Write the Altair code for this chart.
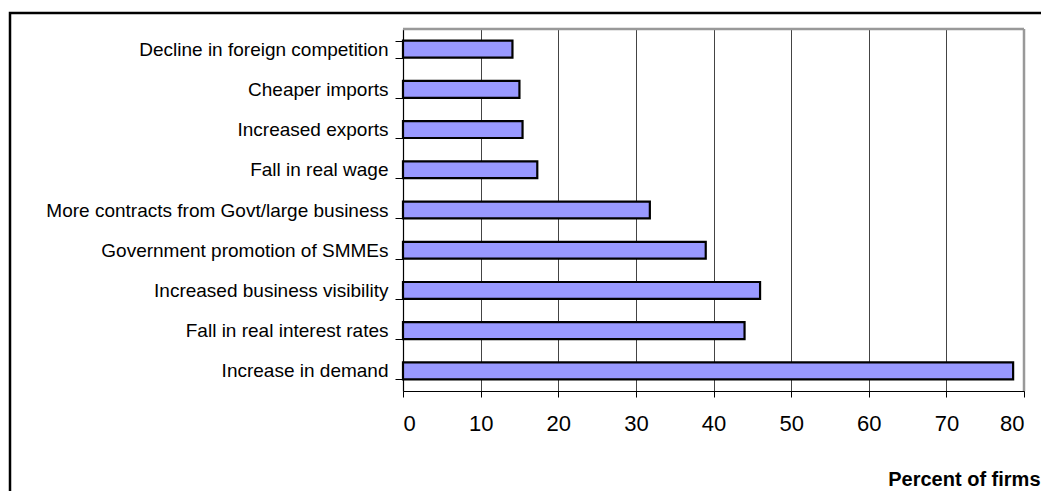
import altair as alt
import pandas as pd

categories = [
    "Decline in foreign competition",
    "Cheaper imports",
    "Increased exports",
    "Fall in real wage",
    "More contracts from Govt/large business",
    "Government promotion of SMMEs",
    "Increased business visibility",
    "Fall in real interest rates",
    "Increase in demand",
]
values = [14.1, 15.0, 15.4, 17.3, 31.8, 39.0, 46.0, 44.0, 78.6]
x_ticks = [0, 10, 20, 30, 40, 50, 60, 70, 80]

df = pd.DataFrame({"factor": categories, "pct": values})

W, H = 621, 362

bars = alt.Chart(df).mark_bar(
    color="#9999FF", stroke="#000000", strokeWidth=2.2
).encode(
    x=alt.X(
        "pct:Q",
        scale=alt.Scale(domain=[0, 80], nice=False),
        axis=alt.Axis(
            values=x_ticks,
            title="Percent of firms",
            titleFontWeight="bold",
            titleFontSize=20,
            titleFont="Liberation Sans",
            titleColor="#000000",
            titleAnchor="end",
            titleAlign="right",
            titleX=W + 16,
            titleY=88,
            titleBaseline="middle",
            labelFont="Liberation Sans",
            labelFontSize=22,
            labelColor="#000000",
            labelPadding=16,
            tickSize=6,
            tickColor="#000000",
            domainColor="#000000",
            domainWidth=1.2,
            grid=True,
            gridColor="#444444",
            gridWidth=1,
        ),
    ),
    y=alt.Y(
        "factor:N",
        sort=categories,
        scale=alt.Scale(paddingInner=0.58, paddingOuter=0.29),
        axis=alt.Axis(
            title=None,
            labelFont="Liberation Sans",
            labelFontSize=19,
            labelColor="#000000",
            labelPadding=7,
            labelLimit=400,
            tickSize=8,
            tickBand="extent",
            tickColor="#000000",
            domainColor="#000000",
            domainWidth=1.2,
            grid=False,
        ),
    ),
)

one = pd.DataFrame({"a": [0]})

frame_top = alt.Chart(one).mark_rule(color="#999999", strokeWidth=2.5).encode(
    x=alt.value(0), x2=alt.value(W), y=alt.value(0)
)
frame_right = alt.Chart(one).mark_rule(color="#999999", strokeWidth=2.5).encode(
    x=alt.value(W), y=alt.value(0), y2=alt.value(H)
)

border = alt.Chart(one).mark_rect(
    fill="transparent", stroke="#000000", strokeWidth=2.5
).encode(
    x=alt.value(-393), x2=alt.value(700),
    y=alt.value(-16), y2=alt.value(520),
)

chart = alt.layer(bars, frame_top, frame_right, border).properties(
    width=W, height=H,
    autosize=alt.AutoSizeParams(type="none"),
    padding={"left": 395, "top": 21, "right": 17, "bottom": 100},
).configure_view(
    stroke=None
).configure(background="#ffffff")

chart.save("out.html", embed_options={"renderer": "svg", "actions": False})
